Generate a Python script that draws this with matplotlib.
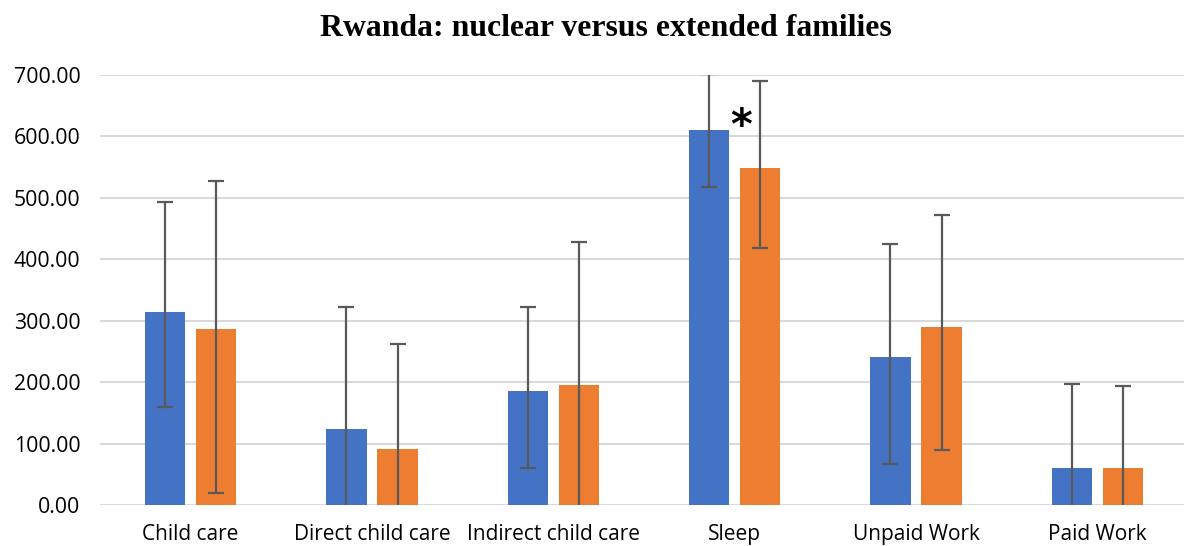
import matplotlib
matplotlib.use("Agg")
import matplotlib.pyplot as plt
import numpy as np

categories = ["Child care", "Direct child care", "Indirect child care", "Sleep", "Unpaid Work", "Paid Work"]
nuclear = [315, 123, 186, 610, 241, 61]
nuclear_low = [160, -77, 61, 518, 67, -75]
nuclear_high = [493, 323, 322, 702, 425, 197]
extended = [287, 91, 195, 548, 290, 60]
extended_low = [19, -80, -38, 419, 89, -74]
extended_high = [527, 262, 428, 690, 472, 194]
yticks = [0, 100, 200, 300, 400, 500, 600, 700]
title = "Rwanda: nuclear versus extended families"

fig = plt.figure(figsize=(11.84, 5.46), dpi=100)
ax = fig.add_axes([100/1184, 41/546, 1088/1184, 430/546])

x = np.arange(len(categories))
w = 0.223
off = 0.141
blue = "#4472C4"
orange = "#ED7D31"
ecol = "#595959"

n = np.array(nuclear); e = np.array(extended)
ax.bar(x - off, n, w, color=blue, zorder=2)
ax.bar(x + off, e, w, color=orange, zorder=2)
ax.errorbar(x - off, n, yerr=[n - np.array(nuclear_low), np.array(nuclear_high) - n],
            fmt="none", ecolor=ecol, elinewidth=1.6, capsize=6, capthick=1.6, zorder=3)
ax.errorbar(x + off, e, yerr=[e - np.array(extended_low), np.array(extended_high) - e],
            fmt="none", ecolor=ecol, elinewidth=1.6, capsize=6, capthick=1.6, zorder=3)

ax.set_xlim(-0.5, 5.5)
ax.set_ylim(0, 700)
ax.set_yticks(yticks)
ax.set_yticklabels([f"{v:.2f}" for v in yticks], fontfamily="Open Sans", fontsize=15.3)
ax.set_xticks(x)
ax.set_xticklabels(categories, fontfamily="Open Sans", fontsize=15)
ax.tick_params(axis="both", length=0)
ax.tick_params(axis="y", pad=14)
ax.tick_params(axis="x", pad=14)
ax.grid(axis="y", color="#D9D9D9", linewidth=1.5, zorder=0)
ax.set_axisbelow(True)
for s in ax.spines.values():
    s.set_visible(False)

ax.text(3.034, 616, "*", ha="center", va="center", fontsize=30, fontweight="bold",
        fontfamily="DejaVu Sans")

fig.text(606/1184, 1 - 28/546, title, ha="center", va="center",
         fontfamily="Liberation Serif", fontweight="bold", fontsize=22.9)

fig.savefig("out.png", dpi=100)
